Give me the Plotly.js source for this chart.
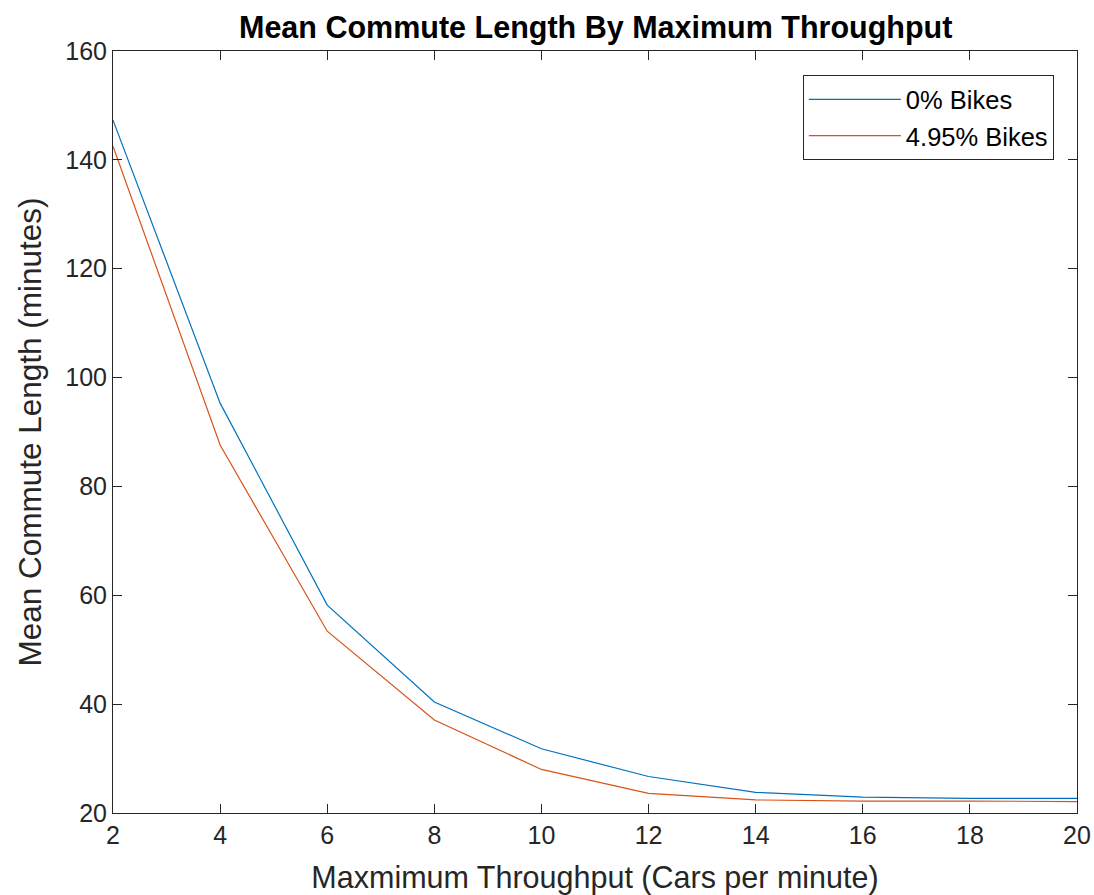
<!DOCTYPE html>
<html><head><meta charset="utf-8">
<script src="https://cdn.plot.ly/plotly-3.0.1.min.js"></script>
<style>body{margin:0;background:#fff}#chart{width:1094px;height:895px}</style>
</head><body><div id="chart"></div>
<script>
const throughput = [2, 4, 6, 8, 10, 12, 14, 16, 18, 20];
const bikes0 = [147.3, 95.3, 58.2, 40.4, 31.8, 26.7, 23.8, 22.9, 22.7, 22.7];
const bikes495 = [142.5, 87.6, 53.4, 37.1, 28.0, 23.6, 22.4, 22.2, 22.2, 22.1];
const seriesNames = ['0% Bikes', '4.95% Bikes'];
const xTicks = [2, 4, 6, 8, 10, 12, 14, 16, 18, 20];
const yTicks = [20, 40, 60, 80, 100, 120, 140, 160];

const axisCol = '#262626';
const traces = [
  {x: throughput, y: bikes0, name: seriesNames[0], mode: 'lines', line: {color: '#0072BD', width: 1.2}},
  {x: throughput, y: bikes495, name: seriesNames[1], mode: 'lines', line: {color: '#D95319', width: 1.2}}
];
const font = 'Arial, "Liberation Sans", Helvetica, sans-serif';
const layout = {
  width: 1094, height: 895,
  margin: {l: 113, r: 17, t: 51, b: 82},
  paper_bgcolor: '#fff', plot_bgcolor: '#fff',
  font: {family: font, color: axisCol},
  title: {text: '<b>Mean Commute Length By Maximum Throughput</b>', x: 0.5445, xanchor: 'center', y: 0.969, yanchor: 'middle', font: {size: 30.5, color: '#000', family: font}},
  xaxis: {range: [2, 20], tickvals: xTicks, ticks: 'inside', ticklen: 9, tickwidth: 1, tickcolor: axisCol,
    showline: true, linecolor: axisCol, linewidth: 1, mirror: 'ticks', showgrid: false, zeroline: false,
    tickfont: {size: 25, color: axisCol}, title: {text: 'Maxmimum Throughput (Cars per minute)', font: {size: 30.5, color: axisCol}, standoff: 18}},
  yaxis: {range: [20, 160], tickvals: yTicks, ticks: 'inside', ticklen: 9, tickwidth: 1, tickcolor: axisCol,
    showline: true, linecolor: axisCol, linewidth: 1, mirror: 'ticks', showgrid: false, zeroline: false,
    tickfont: {size: 25, color: axisCol}, title: {text: 'Mean Commute Length (minutes)', font: {size: 31.5, color: axisCol}, standoff: 14}},
  legend: {x: 0.976, xanchor: 'right', y: 0.968, yanchor: 'top', bordercolor: axisCol, borderwidth: 1, bgcolor: '#fff',
    font: {size: 25.5, color: '#000'}, itemwidth: 92, tracegroupgap: 0},
  showlegend: true
};
Plotly.newPlot('chart', traces, layout, {displayModeBar: false, staticPlot: true});
</script></body></html>
